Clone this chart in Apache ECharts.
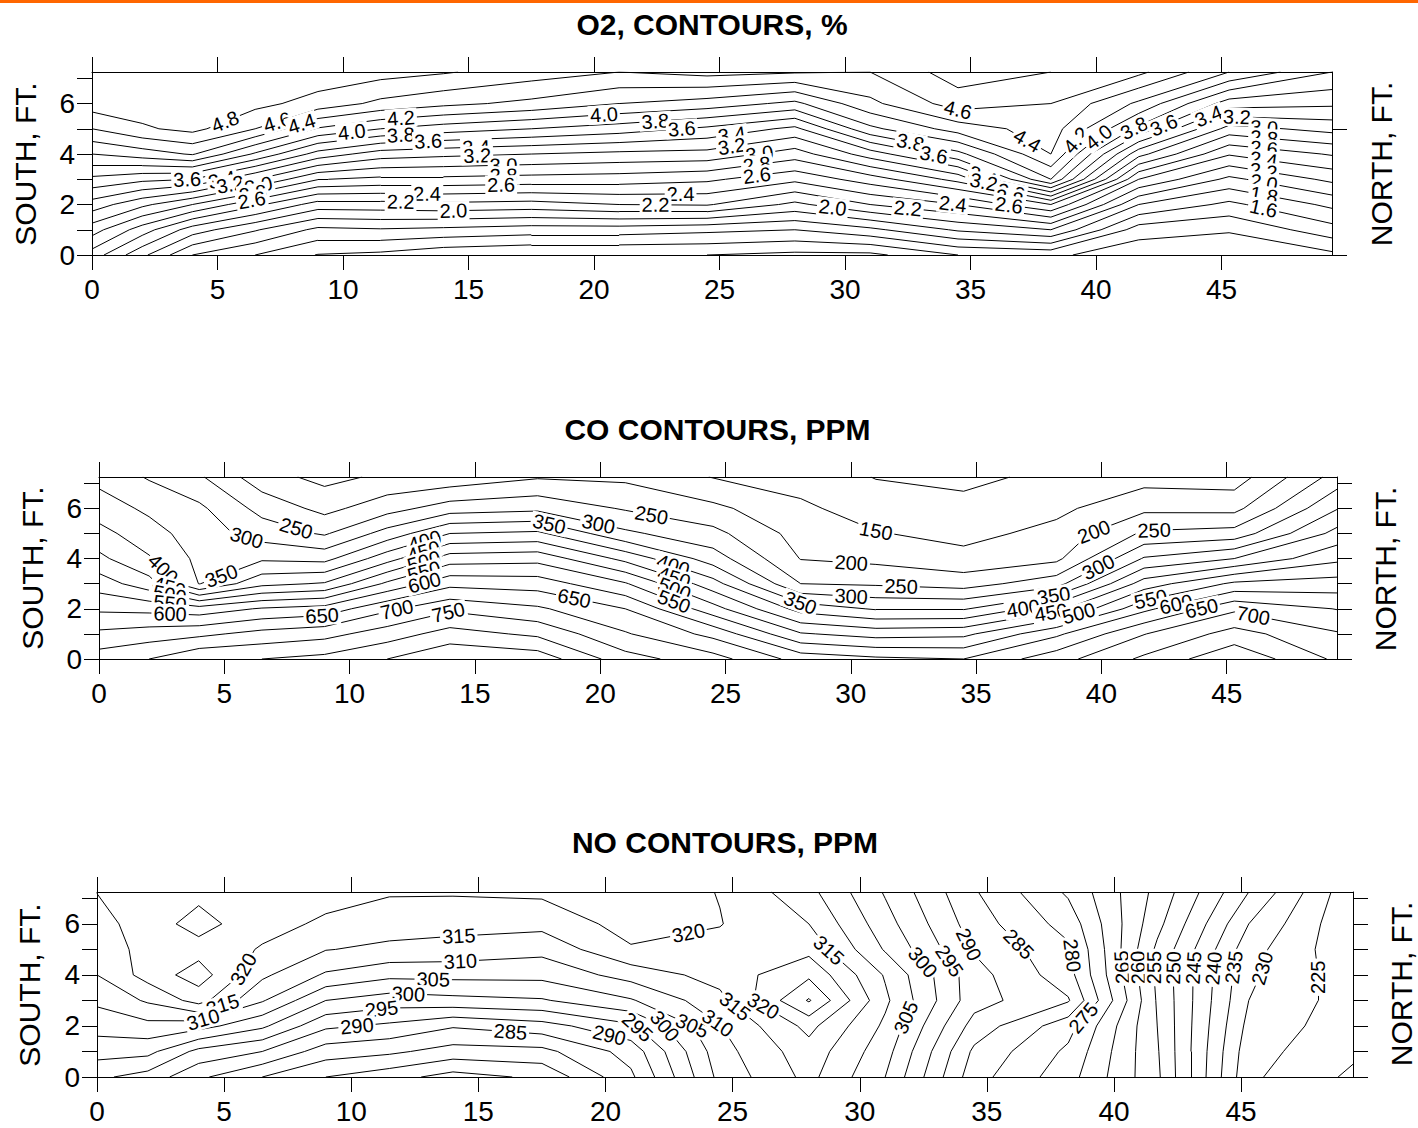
<!DOCTYPE html>
<html><head><meta charset="utf-8">
<script src="https://cdn.jsdelivr.net/npm/echarts@6/dist/echarts.min.js"></script>
<style>html,body{margin:0;padding:0;background:#fff}#c{width:1418px;height:1128px}</style>
</head><body><div id="c"></div>
<script>
// ---------------- DATA ----------------
const X_NODES = [0, 2, 4, 6.5, 9, 11.5, 14, 17.5, 21, 24.5, 28, 31, 34.5, 38.2, 41.7, 45.3, 49.4];
const Y_NODES = [0, 1, 2, 3, 4, 5, 6, 7.25];
const X_MAX = 49.4, Y_MAX = 7.25;
const X_TICKS = [0, 5, 10, 15, 20, 25, 30, 35, 40, 45];
const Y_TICKS = [0, 1, 2, 3, 4, 5, 6, 7];
const Y_TICK_LABELS = [0, 2, 4, 6];

// O2 % : one column per X node, values at Y nodes
const O2_GRID = [
  [2.51, 2.89, 3.31, 3.75, 4.20, 4.60, 4.90, 4.97],
  [2.05, 2.50, 3.05, 3.65, 4.30, 4.77, 4.91, 4.97],
  [1.60, 2.10, 2.80, 3.60, 4.42, 4.86, 4.93, 4.97],
  [1.40, 1.82, 2.45, 3.21, 3.97, 4.60, 4.86, 4.95],
  [1.19, 1.55, 2.11, 2.81, 3.52, 4.18, 4.72, 4.93],
  [1.15, 1.58, 2.12, 2.75, 3.30, 4.00, 4.55, 4.88],
  [1.05, 1.55, 2.15, 2.75, 3.25, 3.90, 4.45, 4.82],
  [1.00, 1.50, 2.12, 2.72, 3.20, 3.80, 4.35, 4.70],
  [1.00, 1.50, 2.20, 2.70, 3.15, 3.70, 4.20, 4.60],
  [1.00, 1.45, 2.22, 2.64, 3.13, 3.56, 4.11, 4.67],
  [0.95, 1.40, 1.95, 2.45, 2.90, 3.35, 3.95, 4.62],
  [0.95, 1.55, 2.20, 2.70, 3.30, 3.95, 4.35, 4.60],
  [1.20, 1.83, 2.40, 3.07, 3.74, 4.29, 4.70, 4.90],
  [1.25, 2.00, 2.80, 4.00, 4.40, 4.50, 4.60, 4.80],
  [1.05, 1.30, 1.80, 2.40, 3.07, 3.75, 4.16, 4.65],
  [1.05, 1.22, 1.55, 1.95, 2.42, 2.92, 3.50, 4.20],
  [1.15, 1.52, 1.85, 2.25, 2.62, 3.07, 3.44, 3.80]
];
const O2_LEVELS = [0.8, 1.0, 1.2, 1.4, 1.6, 1.8, 2.0, 2.2, 2.4, 2.6, 2.8, 3.0, 3.2, 3.4, 3.6, 3.8, 4.0, 4.2, 4.4, 4.6, 4.8, 5.0];
const O2_LABELS = [
  [4.8, 5.37, 5.13], [4.6, 7.36, 5.33], [4.4, 8.31, 5.33], [4.0, 10.33, 5.04], [4.2, 12.3, 5.57],
  [3.8, 12.3, 4.84], [3.6, 13.39, 4.57], [3.4, 15.3, 4.31], [3.2, 15.35, 3.91], [3.0, 16.4, 3.45],
  [2.8, 16.4, 3.11], [2.6, 16.3, 2.65], [2.4, 13.35, 2.52], [2.2, 12.3, 2.2], [2.0, 14.4, 1.76],
  [3.6, 3.79, 2.98], [3.4, 5.18, 2.98], [3.2, 5.51, 2.78], [3.0, 6.6, 2.9], [2.8, 6.4, 2.5], [2.6, 6.35, 2.25],
  [4.0, 20.4, 5.5], [3.8, 22.45, 5.17], [3.6, 23.5, 4.97], [3.4, 25.5, 4.7], [3.2, 25.5, 4.24],
  [3.0, 26.6, 3.98], [2.8, 26.5, 3.5], [2.6, 26.5, 3.05], [2.4, 23.45, 2.21], [2.2, 22.45, 1.72],
  [2.0, 29.5, 1.8], [2.2, 32.5, 1.82], [2.4, 34.3, 2.05],
  [3.8, 32.6, 4.44], [3.6, 33.5, 3.78], [3.4, 35.5, 3.18], [3.2, 35.5, 2.78], [3.0, 36.6, 2.38],
  [2.8, 36.5, 2.0], [2.6, 36.5, 1.72],
  [4.6, 34.5, 5.57], [4.4, 37.56, 5.06], [4.2, 39.15, 4.6], [4.0, 40.1, 4.67], [3.8, 41.5, 5.06],
  [3.6, 42.65, 5.26], [3.4, 44.6, 5.2], [3.2, 45.6, 5.06], [3.0, 46.7, 5.1], [2.8, 46.7, 4.73],
  [2.6, 46.7, 4.33], [2.4, 46.7, 3.94], [2.2, 46.7, 3.54], [2.0, 46.7, 2.94], [1.8, 46.7, 2.41], [1.6, 46.7, 1.95]
];

// CO ppm
const CO_GRID = [
  [725, 661, 591, 526, 462, 417, 375, 335],
  [750, 675, 585, 470, 405, 370, 340, 295],
  [795, 688, 571, 348, 337, 325, 310, 257],
  [800, 717, 605, 436, 342, 278, 233, 170],
  [815, 733, 620, 455, 334, 244, 185, 135],
  [850, 775, 690, 560, 430, 320, 230, 160],
  [895, 820, 740, 635, 525, 400, 275, 165],
  [880, 790, 708, 627, 533, 410, 287, 195],
  [770, 705, 650, 555, 435, 310, 245, 190],
  [720, 635, 520, 420, 325, 265, 212, 148],
  [630, 505, 380, 250, 198, 180, 160, 128],
  [610, 480, 345, 243, 187, 153, 125, 98],
  [600, 487, 345, 228, 165, 135, 112, 90],
  [680, 590, 433, 280, 188, 165, 138, 110],
  [760, 698, 587, 474, 355, 258, 188, 130],
  [840, 770, 690, 560, 400, 270, 185, 125],
  [740, 705, 648, 572, 488, 417, 347, 270]
];
const CO_LEVELS = [100, 150, 200, 250, 300, 350, 400, 450, 500, 550, 600, 650, 700, 750, 800, 850];
const CO_LABELS = [
  [300, 5.86, 4.73], [250, 7.82, 5.03], [400, 2.6, 3.63], [350, 4.8, 3.53], [450, 2.84, 3.03],
  [500, 2.84, 2.67], [550, 2.84, 2.27], [600, 2.84, 1.87], [650, 8.9, 1.8], [700, 11.87, 2.03],
  [750, 13.93, 1.9], [400, 12.93, 4.93], [450, 12.9, 4.45], [500, 12.9, 4.1], [550, 12.9, 3.72], [600, 12.9, 3.35],
  [350, 17.94, 5.27], [300, 19.9, 5.23], [250, 22.0, 5.49], [650, 18.94, 2.29],
  [400, 22.9, 3.69], [450, 22.9, 3.09], [500, 22.9, 2.63], [550, 22.9, 2.16],
  [150, 31.0, 5.09], [200, 30.0, 3.56], [250, 32.0, 2.67], [300, 30.0, 2.23], [350, 27.97, 2.2],
  [200, 39.83, 4.73], [250, 42.1, 5.16], [300, 39.96, 3.49], [350, 38.1, 2.47], [400, 36.9, 1.89],
  [450, 38.0, 1.8], [500, 39.1, 1.8], [550, 42.0, 2.23], [600, 43.0, 2.1], [650, 44.0, 2.0], [700, 46.1, 1.93]
];

// NO ppm
const NO_GRID = [
  [296, 302, 307, 311, 315, 316.6, 318.1, 320.1],
  [293, 301.5, 308.5, 315.7, 322, 322, 322.5, 321],
  [286, 293.5, 307, 322, 327.5, 323, 327, 323.5],
  [280, 290, 301, 310.5, 316, 319.6, 321.5, 322],
  [275, 282.5, 291, 300, 309.3, 315.2, 319.3, 321.5],
  [272, 281, 289, 297.5, 306.3, 313.9, 317.2, 320.5],
  [268, 278, 285.5, 298.5, 306.5, 313.2, 316.7, 320.5],
  [271, 278.5, 288, 299.5, 306.5, 311.5, 316.5, 321],
  [284, 287, 294, 304.5, 312, 319.5, 322, 323],
  [306.5, 308, 309.8, 313.5, 317, 318.5, 320.2, 319.8],
  [316.5, 318, 321.5, 330.5, 324, 318.5, 315, 311.5],
  [305, 307, 309, 311, 309.5, 304.5, 302, 299.5],
  [282, 284, 288, 292, 292, 289.5, 287.5, 285.5],
  [272, 274, 277, 285.5, 282, 281, 278, 274.2],
  [256, 255.5, 255, 254.5, 254, 254, 256.5, 258.5],
  [226, 227, 228.5, 230, 231, 232, 235, 240],
  [219, 221, 222, 222.5, 222, 221, 220.5, 221]
];
const NO_LEVELS = [220, 225, 230, 235, 240, 245, 250, 255, 260, 265, 270, 275, 280, 285, 290, 295, 300, 305, 310, 315, 320, 325, 330];
const NO_LABELS = [
  [315, 14.23, 5.49], [310, 14.3, 4.37], [305, 13.22, 3.58], [300, 12.24, 3.02], [295, 11.2, 2.6],
  [290, 10.24, 1.84], [320, 5.58, 4.33], [315, 4.9, 2.95], [310, 4.18, 2.23],
  [320, 23.34, 5.25], [285, 16.26, 1.75], [290, 20.24, 2.0], [295, 21.3, 2.0], [300, 22.36, 2.05],
  [305, 23.45, 2.1], [310, 24.5, 2.23], [315, 25.0, 2.65], [320, 26.27, 2.89], [315, 28.9, 5.09],
  [305, 31.6, 2.43], [300, 32.6, 4.6], [295, 33.6, 4.6], [290, 34.0, 5.05], [285, 35.96, 4.92],
  [280, 37.8, 4.7], [275, 38.6, 2.49], [265, 40.05, 4.29], [260, 40.8, 4.29], [255, 41.3, 4.29],
  [250, 42.0, 4.29], [245, 42.98, 4.29], [240, 43.6, 4.29], [235, 44.5, 4.33], [230, 45.6, 4.33], [225, 46.8, 3.91]
];

const TITLES = ['O2, CONTOURS, %', 'CO CONTOURS, PPM', 'NO CONTOURS, PPM'];

// ---------------- LAYOUT ----------------
const FONT = "'Liberation Sans', Arial, sans-serif";
const PANELS = [
  {grid: O2_GRID, levels: O2_LEVELS, labels: O2_LABELS, fmt: v => v.toFixed(1), rightTicks: [0, 5],
   box: {left: 92, top: 72, width: 1240, height: 183}, title: [712, 24.5], south: [25, 164], north: [1381, 164]},
  {grid: CO_GRID, levels: CO_LEVELS, labels: CO_LABELS, fmt: v => String(v), rightTicks: Y_TICKS,
   box: {left: 99, top: 477, width: 1238, height: 182}, title: [717.5, 429], south: [32, 568], north: [1385, 569]},
  {grid: NO_GRID, levels: NO_LEVELS, labels: NO_LABELS, fmt: v => String(v), rightTicks: Y_TICKS,
   box: {left: 97, top: 892, width: 1256, height: 185}, title: [725, 842.5], south: [29.5, 985], north: [1401, 984]}
];

// ---------------- CONTOURING (marching squares) ----------------
function contour(grid, level) {
  const segs = [];
  const nx = X_NODES.length, ny = Y_NODES.length;
  const val = (i, j) => { const z = grid[i][j]; return Math.abs(z - level) < 1e-9 ? z + 1e-6 : z; };
  const interp = (xa, ya, za, xb, yb, zb) => { const t = (level - za) / (zb - za); return [xa + t * (xb - xa), ya + t * (yb - ya)]; };
  for (let i = 0; i < nx - 1; i++) {
    for (let j = 0; j < ny - 1; j++) {
      const x0 = X_NODES[i], x1 = X_NODES[i + 1], y0 = Y_NODES[j], y1 = Y_NODES[j + 1];
      const a = val(i, j), b = val(i + 1, j), c = val(i + 1, j + 1), d = val(i, j + 1);
      const A = a > level, B = b > level, C = c > level, D = d > level;
      const p0 = A !== B ? interp(x0, y0, a, x1, y0, b) : null;
      const p1 = B !== C ? interp(x1, y0, b, x1, y1, c) : null;
      const p2 = D !== C ? interp(x0, y1, d, x1, y1, c) : null;
      const p3 = A !== D ? interp(x0, y0, a, x0, y1, d) : null;
      const pts = [p0, p1, p2, p3].filter(p => p);
      if (pts.length === 2) segs.push(pts);
      else if (pts.length === 4) {
        const center = (a + b + c + d) / 4 > level;
        if (center === A) { segs.push([p0, p1]); segs.push([p2, p3]); }
        else { segs.push([p3, p0]); segs.push([p1, p2]); }
      }
    }
  }
  return segs;
}

function placeLabel(segs, x, y, sx, sy) {
  let best = null, bestD = Infinity;
  for (const s of segs) {
    const [p, q] = s;
    const ux = (q[0] - p[0]) * sx, uy = (q[1] - p[1]) * sy;
    const wx = (x - p[0]) * sx, wy = (y - p[1]) * sy;
    const L2 = ux * ux + uy * uy;
    let t = L2 > 0 ? (ux * wx + uy * wy) / L2 : 0;
    t = Math.max(0, Math.min(1, t));
    const dx = wx - t * ux, dy = wy - t * uy;
    const d = dx * dx + dy * dy;
    if (d < bestD) { bestD = d; best = {x: p[0] + t * (q[0] - p[0]), y: p[1] + t * (q[1] - p[1]), ang: Math.atan2(uy, ux) * 180 / Math.PI}; }
  }
  if (!best) return null;
  let a = best.ang;
  while (a > 95) a -= 180;
  while (a <= -85) a += 180;
  best.ang = a;
  return best;
}

// ---------------- OPTION ----------------
const grids = [], xAxes = [], yAxes = [], series = [], graphics = [];
graphics.push({type: 'rect', shape: {x: 0, y: 0, width: 1418, height: 3}, style: {fill: '#ff6600'}, silent: true});

PANELS.forEach((P, k) => {
  grids.push(Object.assign({containLabel: false}, P.box));
  const axisLine = {show: true, onZero: false, lineStyle: {color: '#000', width: 1}};
  const tickStyle = {color: '#000', width: 1};
  xAxes.push({type: 'value', gridIndex: k, min: 0, max: X_MAX, position: 'bottom', axisLine,
    axisTick: {show: true, inside: false, length: 15, customValues: X_TICKS, lineStyle: tickStyle},
    axisLabel: {show: true, customValues: X_TICKS, fontSize: 28, color: '#000', fontFamily: FONT, margin: 20},
    splitLine: {show: false}});
  xAxes.push({type: 'value', gridIndex: k, min: 0, max: X_MAX, position: 'top', axisLine,
    axisTick: {show: true, inside: false, length: 15, customValues: X_TICKS, lineStyle: tickStyle},
    axisLabel: {show: false}, splitLine: {show: false}});
  yAxes.push({type: 'value', gridIndex: k, min: 0, max: Y_MAX, position: 'left', axisLine,
    axisTick: {show: true, inside: false, length: 15, customValues: Y_TICKS, lineStyle: tickStyle},
    axisLabel: {show: true, customValues: Y_TICK_LABELS, fontSize: 28, color: '#000', fontFamily: FONT, margin: 17},
    splitLine: {show: false}});
  yAxes.push({type: 'value', gridIndex: k, min: 0, max: Y_MAX, position: 'right', axisLine,
    axisTick: {show: true, inside: false, length: 15, customValues: P.rightTicks, lineStyle: tickStyle},
    axisLabel: {show: false}, splitLine: {show: false}});

  const sx = P.box.width / X_MAX, sy = P.box.height / Y_MAX;
  const segData = [];
  const byLevel = {};
  P.levels.forEach(L => {
    const segs = contour(P.grid, L);
    byLevel[Math.round(L * 1000)] = segs;
    segs.forEach(s => segData.push({coords: s}));
  });
  series.push({type: 'lines', coordinateSystem: 'cartesian2d', xAxisIndex: 2 * k, yAxisIndex: 2 * k,
    polyline: false, silent: true, z: 2, animation: false,
    lineStyle: {color: '#000', width: 1, opacity: 1, curveness: 0}, data: segData});

  const labelData = [];
  P.labels.forEach(([v, x, y]) => {
    const segs = byLevel[Math.round(v * 1000)] || [];
    const b = placeLabel(segs, x, y, sx, sy);
    if (!b) return;
    labelData.push({value: [b.x, b.y], label: {rotate: b.ang, formatter: P.fmt(v)}});
  });
  series.push({type: 'scatter', xAxisIndex: 2 * k, yAxisIndex: 2 * k, symbolSize: 0, z: 5, silent: true, animation: false,
    itemStyle: {opacity: 1},
    label: {show: true, position: 'inside', color: '#000', opacity: 1, fontSize: 20, fontFamily: FONT,
      textBorderWidth: 0, backgroundColor: '#fff', padding: [0, 2], lineHeight: 19},
    data: labelData});

  graphics.push({type: 'text', x: P.title[0], y: P.title[1], silent: true,
    style: {text: TITLES[k], font: 'bold 30px ' + FONT, fill: '#000', align: 'center', verticalAlign: 'middle', textAlign: 'center', textVerticalAlign: 'middle'}});
  graphics.push({type: 'text', x: P.south[0], y: P.south[1], rotation: Math.PI / 2, silent: true,
    style: {text: 'SOUTH, FT.', font: '30px ' + FONT, fill: '#000', align: 'center', verticalAlign: 'middle', textAlign: 'center', textVerticalAlign: 'middle'}});
  graphics.push({type: 'text', x: P.north[0], y: P.north[1], rotation: Math.PI / 2, silent: true,
    style: {text: 'NORTH, FT.', font: '30px ' + FONT, fill: '#000', align: 'center', verticalAlign: 'middle', textAlign: 'center', textVerticalAlign: 'middle'}});
});

const chart = echarts.init(document.getElementById('c'), null, {renderer: 'svg', width: 1418, height: 1128});
chart.setOption({
  backgroundColor: '#fff',
  animation: false,
  grid: grids, xAxis: xAxes, yAxis: yAxes, series: series, graphic: graphics
});
</script>
</body></html>
